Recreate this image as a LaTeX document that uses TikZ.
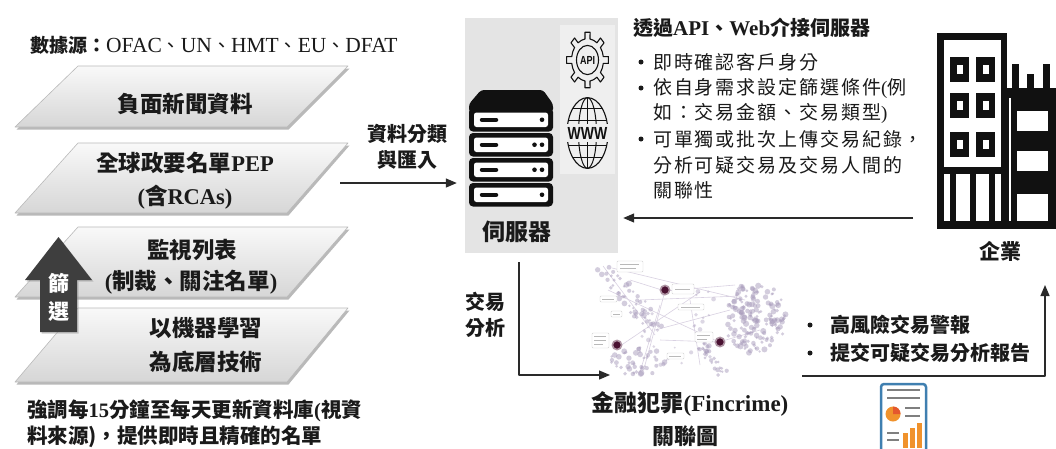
\documentclass[tikz,border=0pt]{standalone}
\usepackage{fontspec}
\setmainfont{Liberation Serif}
\newfontfamily\cjkfont{Noto Sans CJK TC}
\newfontfamily\cjkspaced{Noto Sans CJK TC}[LetterSpace=10]
\newfontfamily\iconsans{Liberation Sans}
\usetikzlibrary{arrows.meta,shadows}
\newcommand\zh[1]{{\cjkfont#1}}
\newcommand\pxsize[1]{\fontsize{#1}{#1}\selectfont}

\definecolor{ink}{HTML}{1A1A1A}
\definecolor{panel}{HTML}{E4E4E4}
\definecolor{subpanel}{HTML}{EFEFEF}
\definecolor{blockarrow}{HTML}{3E3E3E}
\definecolor{linec}{HTML}{2A2A2A}
\definecolor{dotc}{HTML}{A99CBC}
\definecolor{edgec}{HTML}{D9D1E2}
\definecolor{hub}{HTML}{4A1232}
\definecolor{rptblue}{HTML}{3F7FB0}
\definecolor{rptorange}{HTML}{F0922C}
\definecolor{rptred}{HTML}{E4572E}
\definecolor{rptgray}{HTML}{7F7F7F}
\definecolor{bk}{HTML}{111111}

\begin{document}
\begin{tikzpicture}[x=1pt,y=-1pt,line join=round,
  txt/.style={inner sep=0pt, text=ink},
  paratxt/.style={txt, font=\bfseries\pxsize{22.5}},
  para/.style={draw=gray!55, line width=0.6pt, top color=gray!5, bottom color=gray!32,
    drop shadow={shadow xshift=1.5pt, shadow yshift=-2.5pt, fill=black!50, opacity=0.55}},
  arr/.style={draw=linec, line width=1.3pt, -{Triangle[length=11pt,width=9pt]}},
  desc/.style={txt, anchor=west, font=\cjkspaced\pxsize{19}},
  bul/.style={circle, fill=ink, inner sep=0pt, minimum size=5pt},
  icon/.style={line width=1.1pt, draw=bk},
  tiny/.style={draw=gray!55, line width=0.7pt},
  lbox/.style={draw=gray!35, fill=white, line width=0.4pt, rounded corners=1pt}]
\useasboundingbox (0,0) rectangle (1056,448);
\fill[white] (0,0) rectangle (1056,448);

% ---------------- data sources ----------------
\node[txt, anchor=west] (src) at (30,45)
  {\pxsize{21.5}{\bfseries\zh{\pxsize{19}數據源：}}OFAC\zh{\pxsize{19}、}UN\zh{\pxsize{19}、}HMT\zh{\pxsize{19}、}EU\zh{\pxsize{19}、}DFAT};

% stacked data layers
\draw[para] (15,127) -- (287,127) -- (348,66)  -- (78,66)  -- cycle;
\draw[para] (15,213) -- (287,213) -- (348,143) -- (78,143) -- cycle;
\draw[para] (15,297) -- (287,297) -- (348,227) -- (78,227) -- cycle;
\draw[para] (15,382) -- (287,382) -- (348,308) -- (78,308) -- cycle;

\node[paratxt] (p1)  at (185,104) {\zh{負面新聞資料}};
\node[paratxt] (p2a) at (185,163) {\zh{全球政要名單}PEP};
\node[paratxt] (p2b) at (185,197) {(\zh{含}RCAs)};
\node[paratxt] (p3a) at (192,250) {\zh{監視列表}};
\node[paratxt] (p3b) at (191,282) {(\zh{制裁、關注名單})};
\node[paratxt] (p4a) at (206,328) {\zh{以機器學習}};
\node[paratxt] (p4b) at (206,362) {\zh{為底層技術}};

% filtering block arrow
\fill[blockarrow, drop shadow={shadow xshift=1.5pt, shadow yshift=-1.5pt, fill=black!40, opacity=0.5}]
  (40,332) -- (40,280) -- (25,280) -- (58.5,237) -- (92,280) -- (77,280) -- (77,332) -- cycle;
\node[txt, text=white, font=\bfseries\pxsize{21}] (f1) at (58.5,283) {\zh{篩}};
\node[txt, text=white, font=\bfseries\pxsize{21}] (f2) at (58.5,311) {\zh{選}};

% update note
\node[txt, anchor=west, font=\bfseries\pxsize{20.5}] (note1) at (27,411)
  {\zh{強調每}15\zh{分鐘至每天更新資料庫}(\zh{視資}};
\node[txt, anchor=west, font=\bfseries\pxsize{20.5}] (note2) at (27,437)
  {\zh{料來源)，提供即時且精確的名單}};

% ---------------- server ----------------
\node[fill=panel, minimum width=153pt, minimum height=235pt, inner sep=0pt] (srv) at (541.5,135.5) {};
\fill[subpanel] (560,25) rectangle (615,174);

% server rack
\fill[bk, rounded corners=3pt] (469,112) -- (469,104) -- (481,90) -- (543,90) -- (553,104) -- (553,112) -- cycle;
\foreach \y/\d in {108/1,133/2,158/2,183/1}{
  \fill[bk, rounded corners=4pt] (469,\y) rectangle (553,\y+23.5);
  \fill[white, rounded corners=2.5pt] (474,\y+4.5) rectangle (548,\y+19);
  \draw[bk, line width=4.5pt, line cap=round] (482,\y+11.75) -- (496,\y+11.75);
  \fill[bk] (542,\y+11.75) circle[radius=2.3];
  \ifnum\d=2 \fill[bk] (534.5,\y+11.75) circle[radius=2.3]; \fi
}
\node[txt, font=\bfseries\pxsize{23}] (srvlabel) at (517,232) {\zh{伺服器}};

% API gear (drawn tall)
\begin{scope}[shift={(587.5,60)}, yscale=1.33]
  \coordinate (gc) at (0,0);
  \draw[icon] (-9:16) \foreach \a in {0,45,...,315}{
      -- (\a-9:16) -- (\a-7:21) -- (\a+7:21) -- (\a+9:16) -- (\a+22.5:16)
    } -- cycle;
  \draw[icon] (gc) circle[radius=11];
\end{scope}
\node[txt, text=bk, font=\iconsans\bfseries\pxsize{9}, yscale=1.3] (api) at (587.5,60) {API};

% WWW globe (drawn tall)
\begin{scope}[shift={(587.5,133)}, yscale=1.36]
  \coordinate (gl) at (0,0);
  \begin{scope}
    \clip (gl) ellipse[x radius=20.5, y radius=26];
    \foreach \dy in {-18,-9,9,18}
      \draw[icon, line width=1pt] (-25,\dy) -- (25,\dy);
  \end{scope}
  \draw[icon, line width=1pt] (gl) ellipse[x radius=9, y radius=26];
  \draw[icon, line width=1pt] (0,-26) -- (0,26);
  \draw[icon] (gl) ellipse[x radius=20.5, y radius=26];
  \fill[subpanel] (-23,-6.5) rectangle (23,6.5);
\end{scope}
\node[txt, text=bk, font=\iconsans\bfseries\pxsize{14}, yscale=1.25] (www) at (587.5,133) {WWW};

% ---------------- enterprise ----------------
\fill[bk] (937,33) rectangle (1007,229);
\fill[white] (944,40) rectangle (1001,221);
\foreach \wy in {57,93,132}
  \foreach \wx in {950,976}{
    \fill[bk] (\wx,\wy) rectangle (\wx+19,\wy+25);
    \fill[white] (\wx+6.5,\wy+8) rectangle (\wx+12.5,\wy+17);
  }
\fill[bk] (944,167) rectangle (1001,174);
\fill[bk] (950,167) rectangle (956,221);
\fill[bk] (970,167) rectangle (976,221);
\fill[bk] (989,167) rectangle (995,221);
% right wing with battlements
\fill[bk] (1007,88) rectangle (1056,229);
\fill[bk] (1012,64) rectangle (1019,90);
\fill[bk] (1027,74) rectangle (1034,90);
\fill[bk] (1043,64) rectangle (1050,90);
\fill[white] (1009,98) rectangle (1011,221);
\fill[white] (1017,111) rectangle (1048,131);
\fill[white] (1017,151) rectangle (1048,171);
\fill[white] (1017,194) rectangle (1048,221);
\fill[bk] (937,221) rectangle (1056,229);
\node[txt, font=\bfseries\pxsize{21}] (ent) at (1000,251) {\zh{企業}};

% interface description
\node[txt, anchor=west, font=\bfseries\pxsize{21}] (ifc) at (633,28)
  {\zh{\pxsize{20}透過}API\zh{\pxsize{20}、}Web\zh{\pxsize{20}介接伺服器}};
\node[bul] (b1) at (641,62)  {};
\node[bul] (b2) at (641,88)  {};
\node[bul] (b3) at (641,139) {};
\node[desc] (d1) at (653,62)  {即時確認客戶身分};
\node[desc] (d2) at (653,88)  {依自身需求設定篩選條件{\rmfamily(}例};
\node[desc] (d3) at (653,113) {如：交易金額、交易類型{\rmfamily)}};
\node[desc] (d4) at (653,139) {可單獨或批次上傳交易紀錄，};
\node[desc] (d5) at (653,165) {分析可疑交易及交易人間的};
\node[desc] (d6) at (653,190) {關聯性};

% ---------------- link graph ----------------
\pgfmathsetseed{11}
\foreach \ax/\ay/\bx/\by in {612/268/745/300, 640/300/740/296, 655/330/730/310,
    620/346/700/292, 665/291/645/365, 608/290/719/342, 630/280/665/291, 665/291/735/285,
    660/340/719/342, 719/342/760/330, 603/266/655/335, 660/305/640/372, 690/300/700/365}
  \draw[edgec, line width=0.6pt] (\ax,\ay) -- (\bx,\by);
\foreach \i in {1,...,170}{
  \pgfmathsetmacro\ga{360*rnd}
  \pgfmathsetmacro\gr{sqrt(rnd)}
  \pgfmathsetmacro\gs{1.3+1.8*rnd}
  \pgfmathsetmacro\px{755+31*\gr*cos(\ga)}
  \pgfmathsetmacro\py{318+36*\gr*sin(\ga)}
  \fill[dotc, opacity=0.5] (\px,\py) circle[radius=\gs];
}
\foreach \i in {1,...,50}{
  \pgfmathsetmacro\gt{rnd}
  \pgfmathsetmacro\gs{1.2+1.8*rnd}
  \pgfmathsetmacro\px{604+50*\gt+9*rand}
  \pgfmathsetmacro\py{265+62*\gt+6*rand}
  \fill[dotc, opacity=0.5] (\px,\py) circle[radius=\gs];
}
\foreach \i in {1,...,45}{
  \pgfmathsetmacro\ga{360*rnd}
  \pgfmathsetmacro\gr{sqrt(rnd)}
  \pgfmathsetmacro\gs{1.3+1.8*rnd}
  \pgfmathsetmacro\px{635+30*\gr*cos(\ga)}
  \pgfmathsetmacro\py{361+15*\gr*sin(\ga)}
  \fill[dotc, opacity=0.5] (\px,\py) circle[radius=\gs];
}
\foreach \i in {1,...,28}{
  \pgfmathsetmacro\gt{rnd}
  \pgfmathsetmacro\gs{1.2+1.6*rnd}
  \pgfmathsetmacro\px{700+25*\gt+6*rand}
  \pgfmathsetmacro\py{345+30*\gt+5*rand}
  \fill[dotc, opacity=0.5] (\px,\py) circle[radius=\gs];
}
\foreach \i in {1,...,30}{
  \pgfmathsetmacro\gs{1+1.5*rnd}
  \pgfmathsetmacro\px{640+75*rnd}
  \pgfmathsetmacro\py{290+80*rnd}
  \fill[dotc, opacity=0.4] (\px,\py) circle[radius=\gs];
}
% label boxes
\draw[lbox] (672,284) rectangle (694,294);  \draw[tiny] (675,289) -- (690,289);
\draw[lbox] (617,261) rectangle (643,272);  \draw[tiny] (620,264.5) -- (639,264.5); \draw[tiny] (620,268.5) -- (636,268.5);
\draw[lbox] (600,296) rectangle (617,302);  \draw[tiny] (602,299) -- (614,299);
\draw[lbox] (611,311) rectangle (622,317);  \draw[tiny] (613,314) -- (620,314);
\draw[lbox] (678,304) rectangle (704,310);  \draw[tiny] (681,307) -- (700,307);
\draw[lbox] (592,333) rectangle (609,348);  \draw[tiny] (594,336.5) -- (606,336.5); \draw[tiny] (594,340.5) -- (606,340.5); \draw[tiny] (594,344.5) -- (603,344.5);
\draw[lbox] (695,332) rectangle (713,342);  \draw[tiny] (697,335) -- (710,335); \draw[tiny] (697,339) -- (707,339);
\draw[lbox] (667,353) rectangle (684,359);  \draw[tiny] (669,356) -- (681,356);
% hub entities
\foreach \hx/\hy in {665/290, 617/345, 720/342}
  \fill[hub, draw=hub!45, line width=1.6pt] (\hx,\hy) circle[radius=4.6];

\node[txt, font=\bfseries\pxsize{23}] (graph1) at (690,404) {\zh{金融犯罪}(Fincrime)};
\node[txt, font=\bfseries\pxsize{22}] (graph2) at (685,436) {\zh{關聯圖}};

% ---------------- alerts and report ----------------
\node[bul] (b4) at (810,325) {};
\node[bul] (b5) at (810,353) {};
\node[txt, anchor=west, font=\bfseries\pxsize{20}] (al1) at (830,325) {\zh{高風險交易警報}};
\node[txt, anchor=west, font=\bfseries\pxsize{20}] (al2) at (830,353) {\zh{提交可疑交易分析報告}};

\draw[rptblue, line width=2.5pt, fill=white, rounded corners=3pt] (881,384) rectangle (926,460);
\draw[rptgray, line width=2.2pt] (887,390) -- (920,390);
\draw[rptgray, line width=2.2pt] (887,398) -- (920,398);
\fill[rptorange] (893,414) circle[radius=7.5];
\fill[rptred] (893,414) -- (893,406.5) arc[start angle=-90, end angle=0, radius=7.5] -- cycle;
\draw[rptgray, line width=2.2pt] (905,408) -- (920,408);
\draw[rptgray, line width=2.2pt] (905,416) -- (920,416);
\draw[rptgray, line width=2.2pt] (887,433) -- (899,433);
\draw[rptgray, line width=2.2pt] (887,440) -- (899,440);
\fill[rptorange] (903,433) rectangle (908,448);
\fill[rptorange] (910,428) rectangle (915,448);
\fill[rptorange] (917,423) rectangle (922,448);

% ---------------- flows ----------------
\node[txt, font=\bfseries\pxsize{20}] (cls1) at (407,134) {\zh{資料分類}};
\node[txt, font=\bfseries\pxsize{20}] (cls2) at (407,160) {\zh{與匯入}};
\node[txt, font=\bfseries\pxsize{20}] (tx1) at (485,302) {\zh{交易}};
\node[txt, font=\bfseries\pxsize{20}] (tx2) at (485,328) {\zh{分析}};

\coordinate (feed) at (340,183);
\coordinate (apiout) at (913,218);
\coordinate (txstart) at (519,262);
\coordinate (graphin) at (610,375);
\coordinate (alertstart) at (802,376);
\coordinate (entin) at (1045,285);

\draw[arr, shorten >=8pt] (feed) -- (feed -| srv.west);
\draw[arr, shorten >=5pt] (apiout) -- (apiout -| srv.east);
\draw[arr] (txstart) |- (graphin);
\draw[arr] (alertstart) -| (entin);
\end{tikzpicture}
\end{document}
